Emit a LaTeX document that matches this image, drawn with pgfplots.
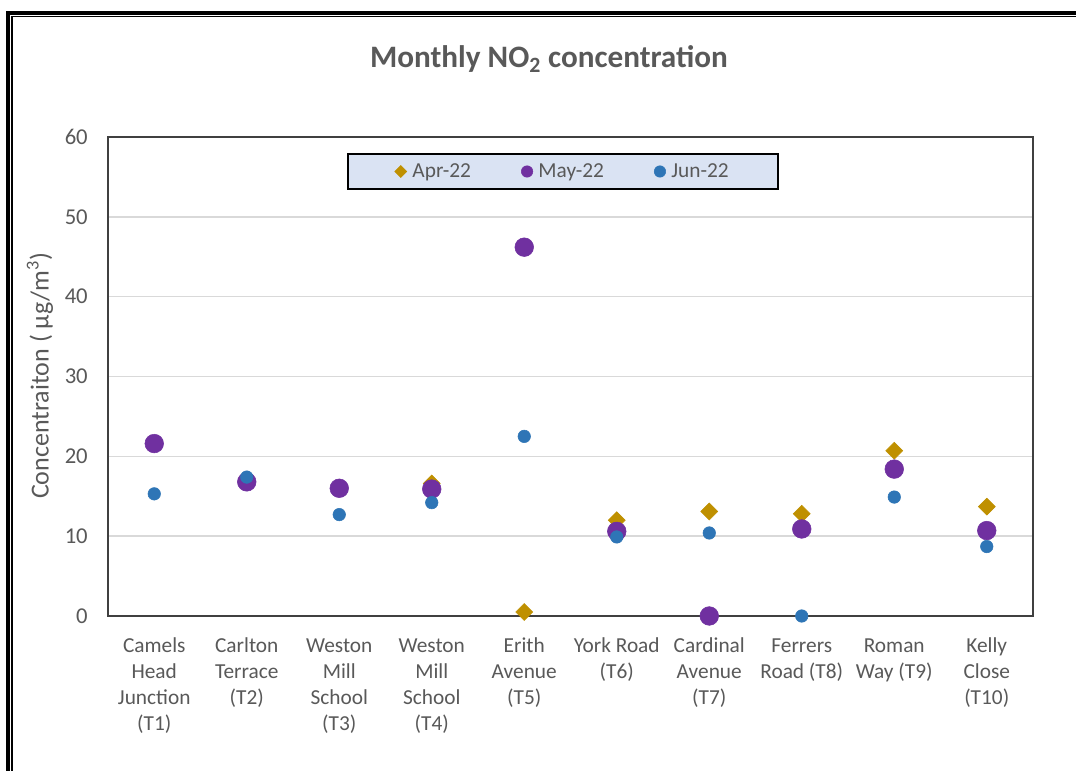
\documentclass[border=0pt]{standalone}
\usepackage{pgfplots}
\pgfplotsset{compat=1.18}
\usepackage{fontspec}
\setmainfont{Carlito}

\definecolor{aprc}{HTML}{BF9000}
\definecolor{mayc}{HTML}{7030A0}
\definecolor{junc}{HTML}{2E75B6}
\definecolor{txt}{HTML}{595959}
\definecolor{grd}{HTML}{D9D9D9}
\definecolor{legfill}{HTML}{DAE3F3}

\begin{document}
\begin{tikzpicture}
\useasboundingbox (0pt,0pt) rectangle (807pt,578.25pt);
\fill[white] (0pt,0pt) rectangle (807pt,578.25pt);
% outer double frame (only top and left are inside the picture)
\begin{scope}
  \clip (0pt,0pt) rectangle (807pt,578.25pt);
  \draw[line width=3pt, miter limit=10] (6pt,-10pt) -- (6pt,568.5pt) -- (830pt,568.5pt);
  \draw[line width=1.1pt] (9pt,-10pt) -- (9pt,565.9pt) -- (830pt,565.9pt);
\end{scope}

\node[txt, font=\fontsize{23.4}{28}\selectfont\bfseries] at (411.75pt,534pt)
  {Monthly NO\textsubscript{2} concentration};
\node[txt, rotate=90, font=\fontsize{19.5}{23}\selectfont] at (30pt,296.25pt)
  {Concentraiton ( µg/m\textsuperscript{3})};

\begin{axis}[
    at={(81pt,116.25pt)}, anchor=south west,
    scale only axis,
    width=693.75pt, height=359.25pt,
    xmin=-0.5, xmax=9.5,
    ymin=0, ymax=60,
    xtick={0,...,9},
    ytick={0,10,...,60},
    xticklabels={
      {\strut Camels\\Head\\Junction\\(T1)},
      {\strut Carlton\\Terrace\\(T2)},
      {\strut Weston\\Mill\\School\\(T3)},
      {\strut Weston\\Mill\\School\\(T4)},
      {\strut Erith\\Avenue\\(T5)},
      {\strut York Road\\(T6)},
      {\strut Cardinal\\Avenue\\(T7)},
      {\strut Ferrers\\Road (T8)},
      {\strut Roman\\Way (T9)},
      {\strut Kelly\\Close\\(T10)}},
    major tick length=0pt,
    ymajorgrids=true,
    grid style={grd, line width=1.1pt},
    axis line style={black!75, line width=0.9pt},
    tick label style={txt},
    xticklabel style={align=center, inner sep=0pt, yshift=-14pt,
      font=\fontsize{16}{19.3}\selectfont},
    yticklabel style={inner sep=0pt, xshift=-15pt,
      font=\fontsize{17}{20}\selectfont},
    /pgf/number format/assume math mode=true,
    clip=false,
    legend columns=3,
    legend image code/.code={\draw[#1] plot coordinates {(0pt,0pt)};},
    legend style={
      at={(0.2584,0.928)}, anchor=west,
      draw=black, line width=1.6pt, fill=legfill,
      inner xsep=35pt, inner ysep=5pt,
      font=\fontsize{16}{19}\selectfont, text=txt,
      /tikz/every odd column/.append style={column sep=2.25pt},
      /tikz/every even column/.append style={column sep=35.75pt}},
  ]

  % Apr-22
  \addplot[only marks, mark=square*, color=aprc,
    mark size=4.5pt, mark options={rotate=45, line width=0.4pt},
    legend image post style={mark size=3.2pt}]
  coordinates {
    (3,16.6) (4,0.5) (5,12.0) (6,13.1) (7,12.8) (8,20.7) (9,13.7)
  };
  \addlegendentry{Apr-22}

  % May-22
  \addplot[only marks, mark=*, color=mayc,
    mark size=7pt, mark options={line width=0.4pt},
    legend image post style={mark size=4.3pt}]
  coordinates {
    (0,21.6) (1,16.8) (2,16.0) (3,15.9) (4,46.2)
    (5,10.6) (6,0.0) (7,10.9) (8,18.4) (9,10.7)
  };
  \addlegendentry{May-22}

  % Jun-22
  \addplot[only marks, mark=*, color=junc,
    mark size=4.7pt, mark options={line width=0.4pt},
    legend image post style={mark size=4.3pt}]
  coordinates {
    (0,15.3) (1,17.4) (2,12.7) (3,14.2) (4,22.5)
    (5,9.9) (6,10.4) (7,0.0) (8,14.9) (9,8.7)
  };
  \addlegendentry{Jun-22}

\end{axis}
\end{tikzpicture}
\end{document}
